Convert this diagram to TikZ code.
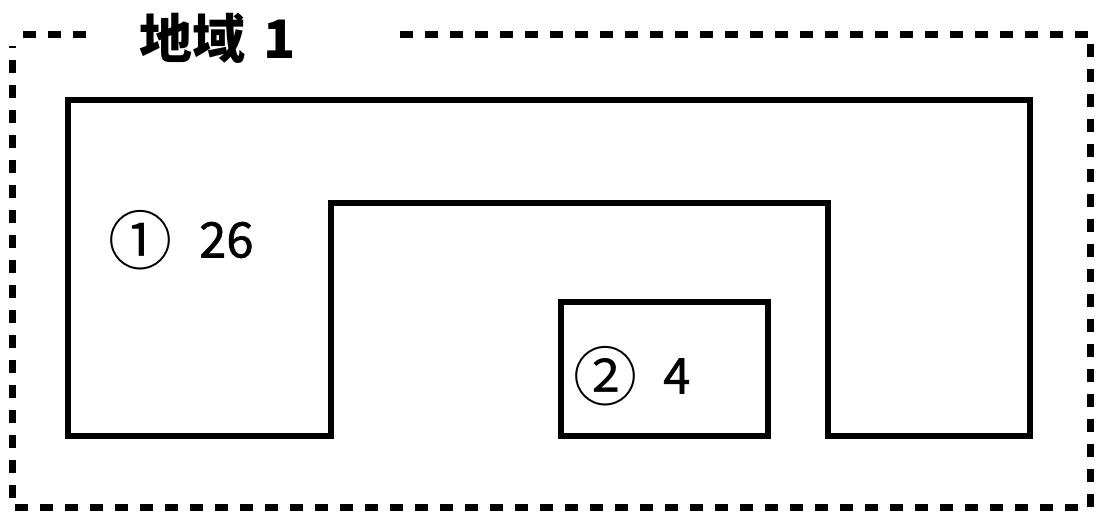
\documentclass[tikz,border=0pt]{standalone}
\usepackage{fontspec}
\setmainfont{Noto Sans CJK JP}
\newfontfamily\numfont[FakeBold=1.2]{Noto Sans CJK JP}
\begin{document}
\begin{tikzpicture}[x=1pt,y=-1pt,
  frame/.style={line width=7pt, dash pattern=on 13pt off 12pt},
  region/.style={line width=6pt, line join=miter},
  num/.style={inner sep=0pt, font=\numfont\fontsize{49}{52}\selectfont},
  circ/.style={inner sep=0pt, font=\fontsize{64}{66}\selectfont},
  ttl/.style={inner sep=0pt, font=\bfseries\fontsize{53}{56}\selectfont}]
\useasboundingbox[fill=white] (0,0) rectangle (1099,520);
\coordinate (fa) at (400,34);
\coordinate (fb) at (1090,34);
\coordinate (fc) at (1090,507);
\coordinate (fd) at (12,507);
\coordinate (fe) at (12,46);
\coordinate (fg) at (23,34);
\coordinate (fh) at (88,34);
\draw[frame] (fa) -- (fb) -- (fc) -- (fd) -- (fe);
\draw[frame] (fg) -- (fh);
\node[ttl, anchor=west] (title) at (139,38) {地域\hspace{6pt} 1};
\draw[region] (68,100) -- (1030,100) -- (1030,436) -- (828,436) -- (828,203) -- (331,203) -- (331,436) -- (68,436) -- cycle;
\draw[region] (561,302) rectangle (768,436);
\node[circ] (c1) at (140,240) {①};
\node[num, anchor=west] (n1) at (199,240) {26};
\node[circ] (c2) at (605,376) {②};
\node[num, anchor=west] (n2) at (663,376) {4};
\end{tikzpicture}
\end{document}
